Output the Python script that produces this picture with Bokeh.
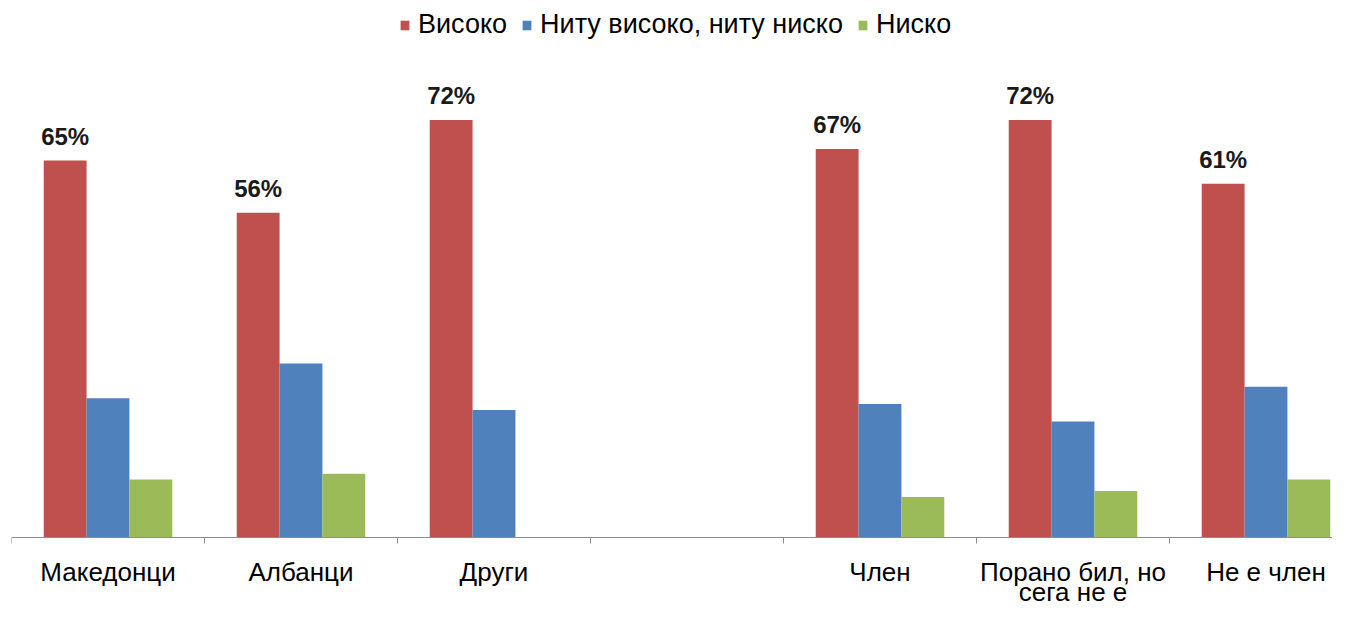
from bokeh.plotting import figure
from bokeh.models import Range1d, Legend, LegendItem, ColumnDataSource, Span
from bokeh.core.properties import value
from bokeh.embed import file_html
from bokeh.resources import INLINE

categories = ["Македонци", "Албанци", "Други", "", "Член", "Порано бил, но\nсега не е", "Не е член"]
series_names = ["Високо", "Ниту високо, ниту ниско", "Ниско"]
high = [65, 56, 72, None, 67, 72, 61]
mid = [24, 30, 22, None, 23, 20, 26]
low = [10, 11, None, None, 7, 8, 10]
colors = ["#C0504D", "#4F81BD", "#9BBB59"]

FONT = "Liberation Sans"
cat_px = 193.0
W, H = 1332, 607
left = 11
frame_w = W - left
above_px = 537          # pixels from top of frame to the zero line
below_px = H - above_px
px_per_pct = 5.80
axis_color = "#8c8c8c"

p = figure(width=W, height=H, output_backend="svg", toolbar_location=None,
           x_range=Range1d(0, frame_w / cat_px),
           y_range=Range1d(-below_px / px_per_pct, above_px / px_per_pct),
           min_border_left=left, min_border_right=0, min_border_top=0, min_border_bottom=0)
p.outline_line_color = None
p.grid.visible = False
p.axis.visible = False
p.background_fill_color = "white"
p.border_fill_color = "white"

bw = 0.222
offsets = [-bw, 0.0, bw]
renderers = []
for vals, off, col in zip([high, mid, low], offsets, colors):
    xs = [i + 0.5 + off for i, v in enumerate(vals) if v is not None]
    ys = [v for v in vals if v is not None]
    src = ColumnDataSource(dict(x=xs, top=ys))
    r = p.vbar(x="x", top="top", width=bw, bottom=0, source=src,
               fill_color=col, line_color=None)
    renderers.append(r)

# category axis: base line and tick marks at category boundaries
p.add_layout(Span(location=0, dimension="width", line_color=axis_color, line_width=1))
bounds = list(range(len(categories) + 1))
p.segment(x0=bounds, y0=[0] * len(bounds), x1=bounds, y1=[-6 / px_per_pct] * len(bounds),
          line_color=axis_color, line_width=1)

# data labels for the "high" series
lx = [i + 0.5 - bw for i, v in enumerate(high) if v is not None]
ly = [v for v in high if v is not None]
lt = [f"{v}%" for v in high if v is not None]
p.text(x=lx, y=ly, text=lt, text_align="center", text_baseline="alphabetic",
       y_offset=-24, text_font=value(FONT), text_font_style="bold",
       text_font_size="24px", text_color="#1a1a1a")

# category labels below the axis
centers = [i + 0.5 for i in range(len(categories))]
tx, toff, tt = [], [], []
for c, lab in zip(centers, categories):
    for k, line in enumerate(lab.split("\n")):
        if line:
            tx.append(c)
            toff.append(34 + 20 * k)
            tt.append(line)
p.text(x=tx, y=[0] * len(tx), y_offset=toff, text=tt, text_align="center",
       text_baseline="alphabetic", text_font=value(FONT), text_font_size="26px",
       text_color="#000000")

legend = Legend(items=[LegendItem(label=n, renderers=[r]) for n, r in zip(series_names, renderers)],
                orientation="horizontal", location=(388, 567),
                glyph_width=11, glyph_height=12, label_standoff=8, spacing=14,
                padding=0, margin=0, border_line_color=None, background_fill_alpha=0,
                label_text_font=FONT, label_text_font_size="27px", label_text_color="#000000")
p.add_layout(legend)

open("out.html", "w").write(file_html(p, INLINE))
